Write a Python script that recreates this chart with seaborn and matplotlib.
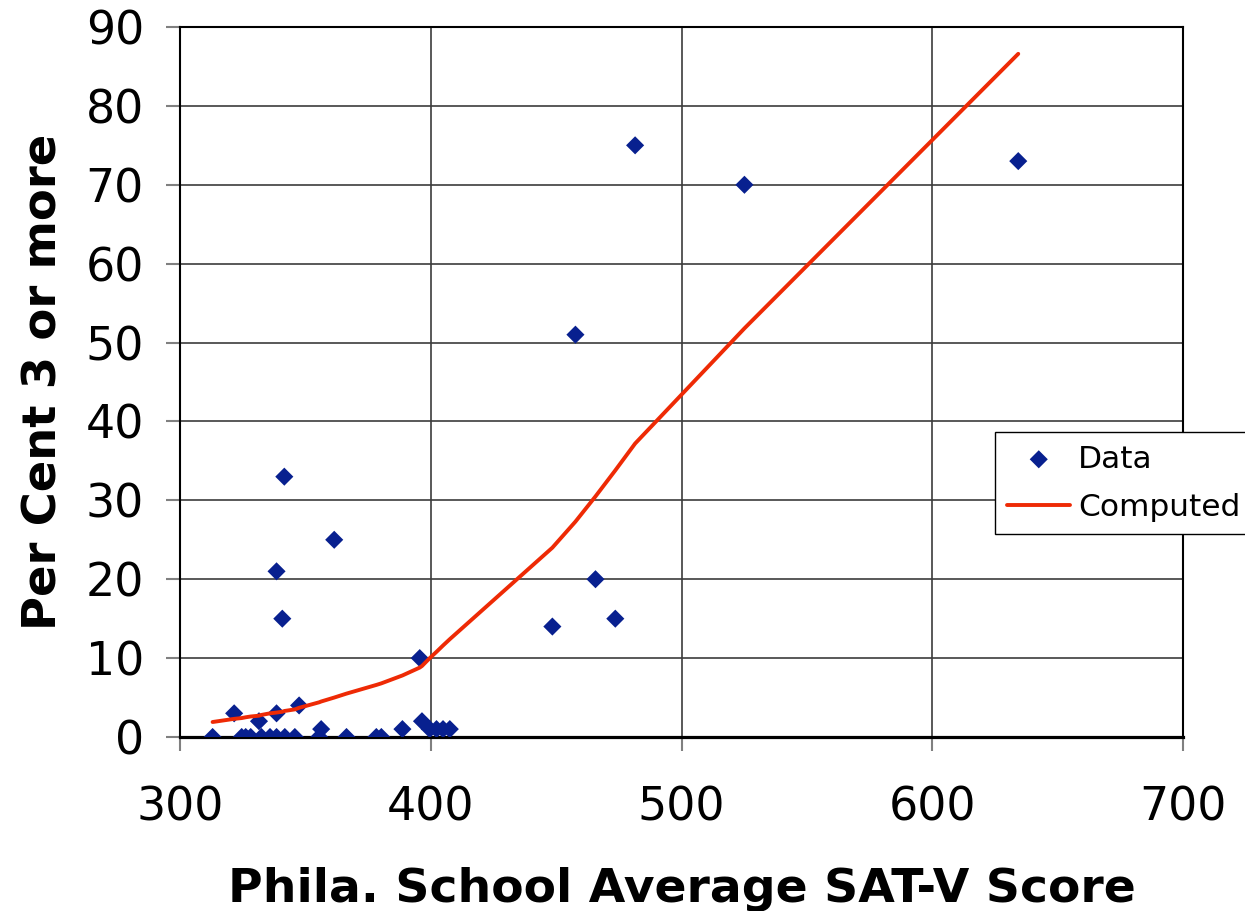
import numpy as np
import pandas as pd
import matplotlib.pyplot as plt
import seaborn as sns

# school average SAT-V vs per cent scoring 3 or more
sat_score = [313, 321.6, 324.6, 326.2, 328.2, 331.5, 332.5, 335.9, 338.5, 338.5,
             338.5, 340.8, 341.6, 341.8, 345.8, 347.5, 355.5, 356.3, 361.5, 366.4,
             378.3, 380.3, 388.7, 395.6, 396.5, 399.6, 402.3, 404.9, 407.6, 448.5,
             457.7, 465.7, 473.6, 481.5, 525.1, 634.3]
pct_3_or_more = [0, 3, 0, 0, 0, 2, 0, 0, 0, 3,
                 21, 15, 33, 0, 0, 4, 0, 1, 25, 0,
                 0, 0, 1, 10, 2, 1, 1, 1, 1, 14,
                 51, 20, 15, 75, 70, 73]

# computed curve
computed_sat = [313, 321.6, 324.6, 326.2, 328.2, 331.5, 332.5, 335.9, 338.5, 340.8,
                341.7, 345.8, 347.5, 355.5, 356.3, 361.5, 366.4, 378.3, 380.3, 388.7,
                395.6, 396.5, 399.6, 402.3, 404.9, 407.6, 448.5, 457.7, 465.7, 473.6,
                481.5, 525.1, 634.3]
computed_pct = [1.9, 2.3, 2.4, 2.5, 2.6, 2.7, 2.8, 3.0, 3.1, 3.2,
                3.3, 3.5, 3.7, 4.4, 4.5, 5.0, 5.5, 6.6, 6.8, 7.8,
                8.8, 9.0, 10.0, 10.8, 11.6, 12.4, 24.0, 27.3, 30.5, 33.8,
                37.2, 51.8, 86.6]

x_ticks = [300, 400, 500, 600, 700]
y_ticks = list(range(0, 100, 10))

sns.set_style('white')
plt.rcParams['font.family'] = ['DejaVu Sans']
plt.rcParams['text.color'] = 'black'
plt.rcParams['xtick.color'] = 'black'
plt.rcParams['ytick.color'] = 'black'

fig = plt.figure(figsize=(12.45, 9.11), dpi=100)
ax = fig.add_axes([180 / 1245, 1 - 737 / 911, 1003 / 1245, 710 / 911])

sns.scatterplot(x=sat_score, y=pct_3_or_more, marker='D', s=85, color='#08208f',
                edgecolor='none', linewidth=0, label='Data', ax=ax, zorder=3)
sns.lineplot(x=computed_sat, y=computed_pct, sort=False, estimator=None,
             color='#ee2a05', linewidth=2.8, label='Computed', ax=ax, zorder=4)

ax.set_xlim(300, 700)
ax.set_ylim(0, 90)
ax.set_xticks(x_ticks)
ax.set_yticks(y_ticks)
ax.grid(True, color='#3c3c3c', linewidth=1.2)
ax.set_axisbelow(True)
ax.tick_params(axis='both', bottom=True, left=True, labelsize=33, length=10,
               width=1.5, color='#808080', labelcolor='black', direction='out')
ax.tick_params(axis='x', pad=25)
ax.tick_params(axis='y', pad=16)
for side in ['top', 'right', 'left']:
    ax.spines[side].set_color('black')
    ax.spines[side].set_linewidth(1.5)
    ax.spines[side].set_visible(True)
ax.spines['bottom'].set_color('black')
ax.spines['bottom'].set_linewidth(2.3)
ax.spines['bottom'].set_visible(True)
ax.set_xlabel('')
ax.set_ylabel('')

fig.text(681.5 / 1245, 1 - 902 / 911, 'Phila. School Average SAT-V Score',
         fontsize=34, fontweight='bold', ha='center', va='baseline', color='black')
fig.text(57 / 1245, 1 - 382 / 911, 'Per Cent 3 or more', fontsize=33.5,
         fontweight='bold', ha='center', va='baseline', rotation=90,
         rotation_mode='anchor', color='black')

handles, labels = ax.get_legend_handles_labels()
order = [labels.index('Data'), labels.index('Computed')]
leg = ax.legend([handles[i] for i in order], [labels[i] for i in order],
                loc='upper left', bbox_to_anchor=(995 / 1245, 1 - 432 / 911),
                bbox_transform=fig.transFigure, borderaxespad=0, fontsize=22.5,
                frameon=True, fancybox=False, framealpha=1, edgecolor='black',
                handlelength=2.0, handletextpad=0.25, labelspacing=0.62,
                borderpad=0.4, markerscale=1.0)
leg.get_frame().set_linewidth(1.0)
for t in leg.get_texts():
    t.set_color('black')

plt.savefig('out.png', dpi=100)
